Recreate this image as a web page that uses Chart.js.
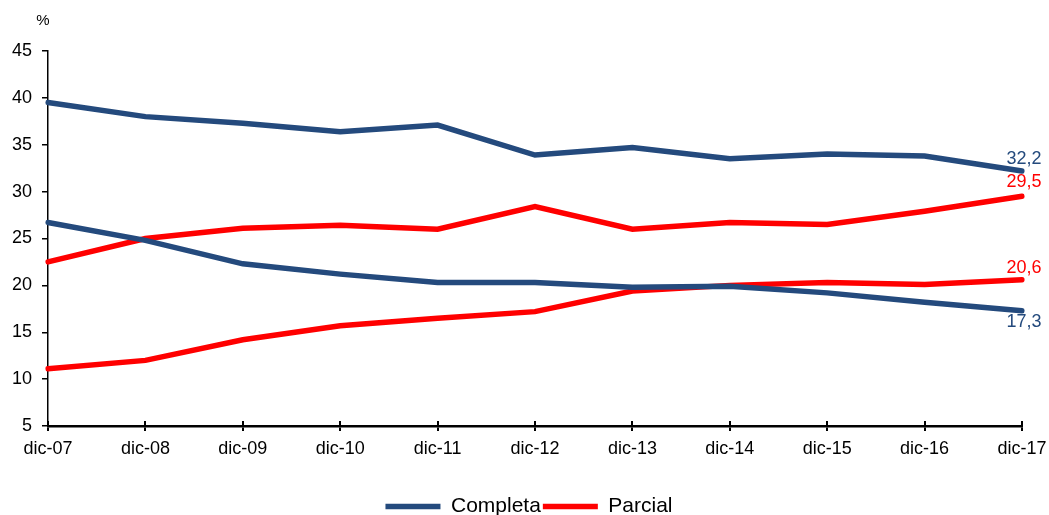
<!DOCTYPE html>
<html>
<head>
<meta charset="utf-8">
<script src="https://cdn.jsdelivr.net/npm/chart.js@4.4.0/dist/chart.umd.min.js"></script>
<style>
  html, body { margin: 0; padding: 0; background: #fff; }
  #wrap { width: 1049px; height: 515px; position: relative; }
</style>
</head>
<body>
<div id="wrap"><canvas id="chart"></canvas></div>
<script>
const labels = ['dic-07', 'dic-08', 'dic-09', 'dic-10', 'dic-11', 'dic-12', 'dic-13', 'dic-14', 'dic-15', 'dic-16', 'dic-17']
const completaA = [39.5, 38.0, 37.3, 36.4, 37.1, 33.9, 34.7, 33.5, 34.0, 33.8, 32.2]
const completaB = [26.7, 24.8, 22.3, 21.2, 20.3, 20.3, 19.8, 19.9, 19.2, 18.2, 17.3]
const parcialA = [22.5, 25.0, 26.1, 26.4, 26.0, 28.4, 26.0, 26.7, 26.5, 27.9, 29.5]
const parcialB = [11.1, 12.0, 14.2, 15.7, 16.5, 17.2, 19.4, 20.0, 20.3, 20.1, 20.6]

const blue = '#244a7d'
const red = '#ff0000'
const font = '"Liberation Sans", Arial, sans-serif'

// end-of-line value labels, offset in px (negative = above)
const endLabels = [
    { ds: 0, color: blue, dy: -12 },
    { ds: 2, color: red, dy: -14 },
    { ds: 3, color: red, dy: -12 },
    { ds: 1, color: blue, dy: 11 }
]

const extras = {
    id: 'extras',
    afterLayout(chart) {
        // nudge legend down/right like the original
        const lg = chart.legend
        lg.top += 12
        lg.bottom += 12
        lg.left += 18
        lg.right += 18
    },
    afterDraw(chart) {
        const ctx = chart.ctx
        const x = chart.scales.x
        const y = chart.scales.y
        ctx.save()
        // "%" unit
        ctx.fillStyle = '#000'
        ctx.font = '15px ' + font
        ctx.textAlign = 'center'
        ctx.textBaseline = 'middle'
        ctx.fillText('%', 43, 21)
        // inner half of x tick marks
        ctx.strokeStyle = '#000'
        ctx.lineWidth = 2
        labels.forEach((l, i) => {
            const px = Math.round(x.getPixelForValue(i))
            ctx.beginPath()
            ctx.moveTo(px, y.bottom)
            ctx.lineTo(px, y.bottom - 5)
            ctx.stroke()
        })
        // value labels
        ctx.font = '18px ' + font
        endLabels.forEach(item => {
            const data = chart.data.datasets[item.ds].data
            const last = data.length - 1
            const px = x.getPixelForValue(last)
            const py = y.getPixelForValue(data[last])
            ctx.fillStyle = item.color
            ctx.fillText(data[last].toFixed(1).replace('.', ','), px + 2, py + item.dy)
        })
        ctx.restore()
    }
}

const ctx = document.getElementById('chart').getContext('2d')

const lineStyle = color => ({
    borderColor: color,
    backgroundColor: color,
    borderWidth: 5.5,
    borderCapStyle: 'round',
    pointRadius: 0,
    tension: 0,
    fill: false
})

new Chart(ctx, {
    type: 'line',
    data: {
        labels: labels,
        datasets: [
            { label: 'Completa', data: completaA, ...lineStyle(blue) },
            { label: 'Completa', data: completaB, ...lineStyle(blue) },
            { label: 'Parcial', data: parcialA, ...lineStyle(red) },
            { label: 'Parcial', data: parcialB, ...lineStyle(red) }
        ]
    },
    options: {
        responsive: true,
        maintainAspectRatio: false,
        animation: false,
        layout: { padding: { top: 51, right: 27, left: 0, bottom: 0 } },
        plugins: {
            tooltip: { enabled: false },
            legend: {
                display: true,
                position: 'bottom',
                labels: {
                    color: '#000',
                    font: { family: font, size: 21 },
                    usePointStyle: true,
                    pointStyle: 'line',
                    pointStyleWidth: 55,
                    padding: 2,
                    filter: item => item.datasetIndex === 0 || item.datasetIndex === 2
                }
            }
        },
        scales: {
            x: {
                offset: false,
                afterFit: scale => {
                    scale.height = 56
                    scale.paddingRight = 0
                },
                grid: { display: true, drawOnChartArea: false, tickLength: 5, color: '#000', lineWidth: 2 },
                border: { color: '#000', width: 2.5 },
                ticks: {
                    color: '#000',
                    font: { family: font, size: 18 },
                    maxRotation: 0,
                    autoSkip: false,
                    padding: 7
                }
            },
            y: {
                min: 5,
                max: 45,
                afterFit: scale => { scale.width = 48 },
                grid: { display: true, drawOnChartArea: false, tickLength: 6, color: '#000', lineWidth: 1.5 },
                border: { color: '#000', width: 1.5 },
                ticks: {
                    stepSize: 5,
                    color: '#000',
                    font: { family: font, size: 18 },
                    padding: 10
                }
            }
        }
    },
    plugins: [extras]
})
</script>
</body>
</html>
